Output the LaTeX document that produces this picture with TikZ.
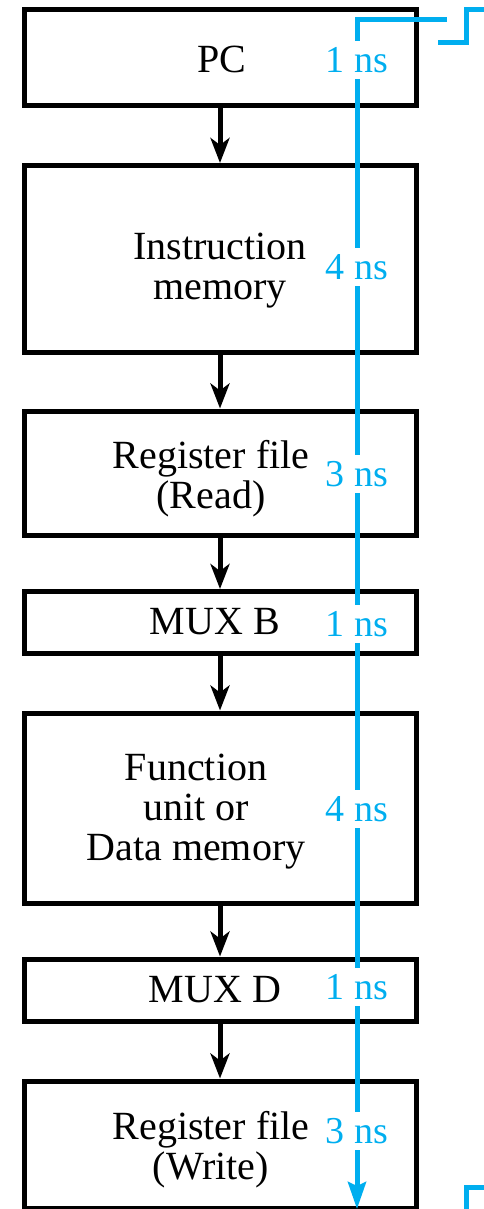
\documentclass[tikz,border=0pt]{standalone}
\usepackage{fontspec}
\setmainfont{Liberation Serif}
\usetikzlibrary{arrows.meta}
\definecolor{pathblue}{RGB}{0,174,239}
\tikzset{
  stagebox/.style={draw=black, line width=5pt, minimum width=392pt, inner sep=0pt},
  stagetext/.style={align=center, inner sep=0pt, font=\fontsize{40}{40}\selectfont},
  delay/.style={text=pathblue, inner sep=0pt, outer sep=0pt, minimum height=38pt,
                font=\fontsize{38}{38}\selectfont},
  flow/.style={draw=black, line width=5pt, -{Stealth[length=25pt,width=19pt,inset=7pt]}},
  timing/.style={draw=pathblue, line width=5pt},
  timingend/.style={timing, -{Stealth[length=27pt,width=18pt,inset=4pt]}}
}
\begin{document}
\begin{tikzpicture}[x=1pt, y=-1pt]
\useasboundingbox (0,0) rectangle (483,1209);

% stages of the single-cycle datapath
\node[stagebox, minimum height=96pt]    (pc)   at (220,57.5)  {};
\node[stagebox, minimum height=186.5pt] (imem) at (220,258.75) {};
\node[stagebox, minimum height=124.5pt] (rfr)  at (220,473.25) {};
\node[stagebox, minimum height=61.5pt]  (muxb) at (220,622.25) {};
\node[stagebox, minimum height=190pt]   (fu)   at (220,808)   {};
\node[stagebox, minimum height=62pt]    (muxd) at (220,990)   {};
\node[stagebox, minimum height=127pt]   (rfw)  at (220,1144.5) {};

% stage names
\node[stagetext] (tpc)   at (222,59)   {PC};
\node[stagetext] (timem) at (220,271)  {Instruction\\memory};
\node[stagetext] (trfr)  at (211,479)  {Register file\\(Read)};
\node[stagetext] (tmuxb) at (215,622)  {MUX B};
\node[stagetext] (tfu)   at (196,812)  {Function\\unit or\\Data memory};
\node[stagetext] (tmuxd) at (215,990)  {MUX D};
\node[stagetext] (trfw)  at (211,1150) {Register file\\(Write)};

% data flow between stages
\draw[flow] (pc.south)   -- (imem.north);
\draw[flow] (imem.south) -- (rfr.north);
\draw[flow] (rfr.south)  -- (muxb.north);
\draw[flow] (muxb.south) -- (fu.north);
\draw[flow] (fu.south)   -- (muxd.north);
\draw[flow] (muxd.south) -- (rfw.north);

% stage delays along the critical path
\node[delay] (d1) at (357,60)   {1 ns};
\node[delay] (d2) at (357,267)  {4 ns};
\node[delay] (d3) at (357,474)  {3 ns};
\node[delay] (d4) at (357,624)  {1 ns};
\node[delay] (d5) at (357,809)  {4 ns};
\node[delay] (d6) at (357,987)  {1 ns};
\node[delay] (d7) at (357,1131) {3 ns};

\coordinate (pin)  at (447,20);
\coordinate (pout) at (357,1209);

\draw[timing] (pin) -| (d1.north);
\draw[timing] (d1.south) -- (d2.north);
\draw[timing] (d2.south) -- (d3.north);
\draw[timing] (d3.south) -- (d4.north);
\draw[timing] (d4.south) -- (d5.north);
\draw[timing] (d5.south) -- (d6.north);
\draw[timing] (d6.south) -- (d7.north);
\draw[timingend] (d7.south) -- (pout);

% clock-edge marks
\draw[timing] (438,42.5) -- (466,42.5) -- (466,9.5) -- (495,9.5);
\draw[timing] (495,1187) -- (466,1187) -- (466,1220);
\end{tikzpicture}
\end{document}
